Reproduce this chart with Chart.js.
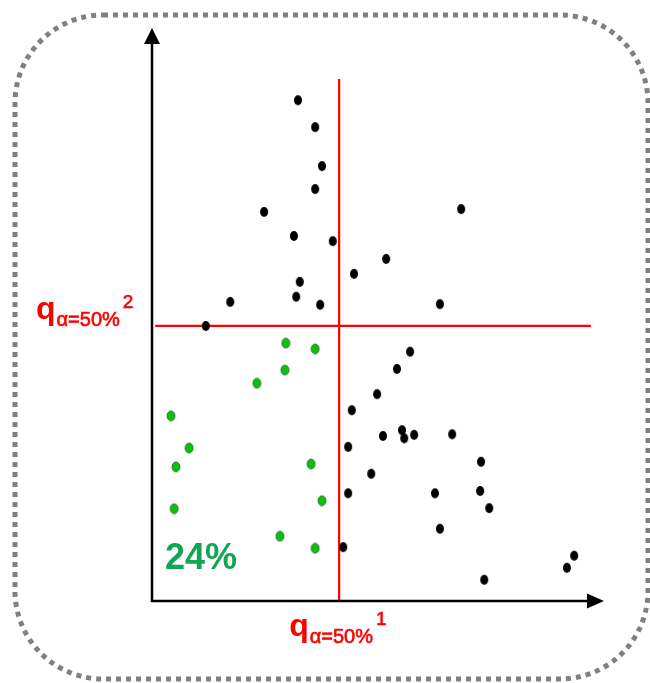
<!DOCTYPE html>
<html>
<head>
<meta charset="utf-8">
<script src="https://cdn.jsdelivr.net/npm/chart.js@4"></script>
<style>
html,body{margin:0;padding:0;background:#fff;}
#c{display:block;}
</style>
</head>
<body>
<canvas id="c" width="650" height="683"></canvas>
<script>
// ---- data (arbitrary units 0..100) ----
const blackX = [32.3,36.1,37.6,36.1,24.8,31.4,40.0,32.7,31.9,17.3,37.2,11.9,68.4,51.8,44.7,63.7,57.1,54.2,49.8,44.2,51.1,55.3,55.8,58.0,66.4,43.4,72.8,48.5,43.4,62.6,72.6,74.6,63.7,42.3,93.4,91.8,73.5];
const blackY = [87.4,82.7,75.9,71.9,67.9,63.7,62.8,55.7,53.1,52.2,51.7,48.0,68.4,59.7,57.1,51.8,43.5,40.5,36.1,33.3,28.8,29.8,28.4,29.0,29.1,26.9,24.3,22.2,18.8,18.8,19.2,16.2,12.6,9.4,7.9,5.8,3.7];
const greenX = [29.6,36.1,29.4,23.2,4.2,8.2,5.3,35.2,37.6,4.9,28.3,36.1];
const greenY = [45.0,44.0,40.3,38.0,32.3,26.7,23.4,23.9,17.5,16.1,11.3,9.2];
const quantileX = 41.4;   // q_{α=50%}^1
const quantileY = 48.0;   // q_{α=50%}^2
const vLineY = [0, 91.1];
const hLineX = [0.7, 97.1];
const shareText = "24%";

const toPts = (xs, ys) => xs.map((x, i) => ({x: x, y: ys[i]}));

function ellipseMark(fill, stroke) {
  const c = document.createElement('canvas');
  c.width = 10; c.height = 12;
  const g = c.getContext('2d');
  g.beginPath();
  g.ellipse(5, 6, 4, 5, 0, 0, Math.PI * 2);
  g.fillStyle = fill;
  g.fill();
  if (stroke) { g.lineWidth = 0.8; g.strokeStyle = stroke; g.stroke(); }
  return c;
}
const blackMark = ellipseMark('#000', null);
const greenMark = ellipseMark('#0cc00c', '#2a6a2a');

const decor = {
  id: 'decor',
  beforeDraw(chart) {
    const ctx = chart.ctx;
    ctx.save();
    ctx.fillStyle = '#fff';
    ctx.fillRect(0, 0, chart.width, chart.height);
    ctx.strokeStyle = '#808080';
    ctx.lineWidth = 5;
    ctx.setLineDash([5, 5]);
    ctx.beginPath();
    ctx.roundRect(15, 15, 633, 664, 88);
    ctx.stroke();
    ctx.restore();
  },
  afterDatasetsDraw(chart) {
    const ctx = chart.ctx;
    const xs = chart.scales.x, ys = chart.scales.y;
    const x0 = xs.getPixelForValue(0), y0 = ys.getPixelForValue(0);
    const xEnd = xs.getPixelForValue(100), yEnd = ys.getPixelForValue(100);
    ctx.save();
    ctx.strokeStyle = '#000';
    ctx.fillStyle = '#000';
    ctx.lineWidth = 2.5;
    ctx.beginPath();
    ctx.moveTo(x0, y0 + 1);
    ctx.lineTo(x0, yEnd + 12);
    ctx.moveTo(x0 - 1, y0);
    ctx.lineTo(xEnd - 12, y0);
    ctx.stroke();
    ctx.beginPath();
    ctx.moveTo(x0, yEnd);
    ctx.lineTo(x0 - 8, yEnd + 16);
    ctx.lineTo(x0 + 8, yEnd + 16);
    ctx.closePath();
    ctx.fill();
    ctx.beginPath();
    ctx.moveTo(xEnd, y0);
    ctx.lineTo(xEnd - 17, y0 - 7.5);
    ctx.lineTo(xEnd - 17, y0 + 7.5);
    ctx.closePath();
    ctx.fill();

    const qxp = xs.getPixelForValue(quantileX);
    const qyp = ys.getPixelForValue(quantileY);
    ctx.fillStyle = '#ff0000';
    ctx.strokeStyle = '#ff0000';
    ctx.textBaseline = 'alphabetic';
    ctx.textAlign = 'left';
    const drawQ = (lx, base, sup) => {
      ctx.font = 'bold 32px "Liberation Sans", Arial, sans-serif';
      ctx.fillText('q', lx, base);
      const w = ctx.measureText('q').width;
      ctx.font = '20px "Liberation Sans", Arial, sans-serif';
      ctx.lineWidth = 0.6;
      ctx.fillText('\u03b1=50%', lx + w + 1, base + 7);
      ctx.strokeText('\u03b1=50%', lx + w + 1, base + 7);
      const w2 = ctx.measureText('\u03b1=50%').width;
      ctx.font = '19px "Liberation Sans", Arial, sans-serif';
      ctx.fillText(sup, lx + w + w2 + 4, base - 11);
      ctx.strokeText(sup, lx + w + w2 + 4, base - 11);
    };
    drawQ(36, qyp - 7, '2');
    drawQ(qxp - 50, y0 + 35, '1');

    ctx.fillStyle = '#13a652';
    ctx.font = 'bold 36px "Liberation Sans", Arial, sans-serif';
    ctx.fillText(shareText, 165, ys.getPixelForValue(5.5));
    ctx.restore();
  }
};

new Chart(document.getElementById('c'), {
  type: 'scatter',
  data: {
    datasets: [
      {
        label: 'quantile 1',
        data: [{x: quantileX, y: vLineY[0]}, {x: quantileX, y: vLineY[1]}],
        showLine: true, borderColor: '#ff0000', borderWidth: 2.2,
        pointRadius: 0, order: 3
      },
      {
        label: 'quantile 2',
        data: [{x: hLineX[0], y: quantileY}, {x: hLineX[1], y: quantileY}],
        showLine: true, borderColor: '#ff0000', borderWidth: 2.2,
        pointRadius: 0, order: 3
      },
      {
        label: 'others',
        data: toPts(blackX, blackY),
        pointStyle: blackMark, pointRadius: 5, order: 1
      },
      {
        label: 'joint',
        data: toPts(greenX, greenY),
        pointStyle: greenMark, pointRadius: 5, order: 1
      }
    ]
  },
  options: {
    responsive: false,
    animation: false,
    layout: { padding: { left: 152, right: 46, top: 28, bottom: 82 } },
    scales: {
      x: { type: 'linear', min: 0, max: 100, display: false },
      y: { type: 'linear', min: 0, max: 100, display: false }
    },
    plugins: { legend: { display: false }, tooltip: { enabled: false } },
    elements: { line: { tension: 0 } }
  },
  plugins: [decor]
});
</script>
</body>
</html>
